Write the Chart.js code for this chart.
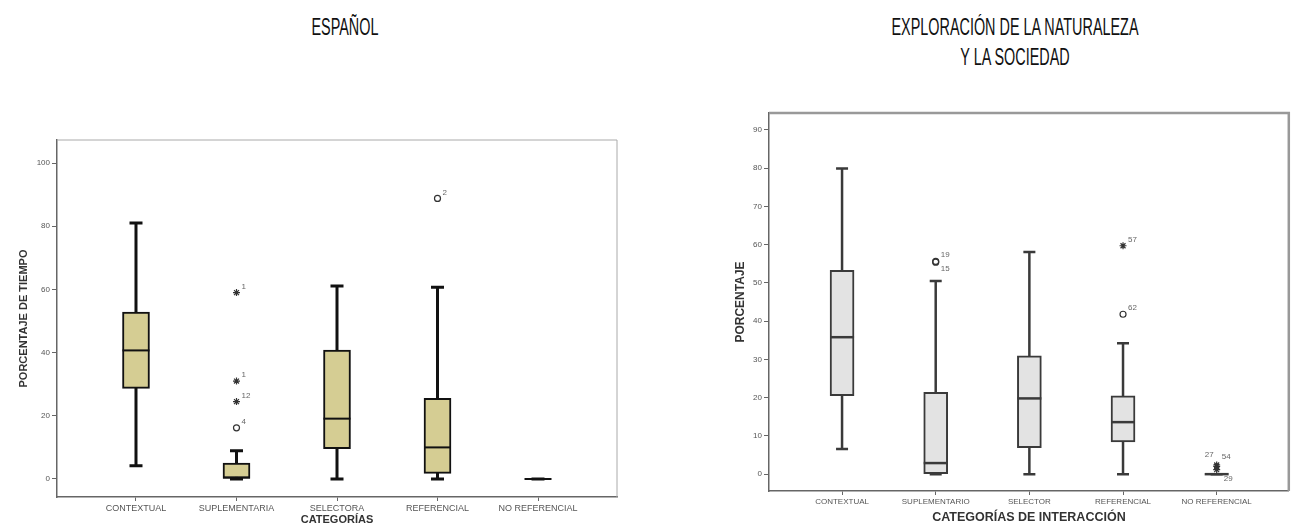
<!DOCTYPE html>
<html lang="es">
<head>
<meta charset="utf-8">
<script src="https://cdn.jsdelivr.net/npm/chart.js@4.4.0/dist/chart.umd.min.js"></script>
<style>
  body { margin: 0; background: #fff; width: 1294px; height: 529px; position: relative; overflow: hidden; font-family: "Liberation Sans", Arial, sans-serif; }
  .title { position: absolute; font-size: 24px; line-height: 30px; color: #111; text-align: center; transform: scaleX(0.6); transform-origin: center; white-space: nowrap; }
  .plot { position: absolute; }
</style>
</head>
<body>
<div class="title" style="left:145px; top:12px; width:400px;">ESPAÑOL</div>
<div class="title" style="left:715px; top:12px; width:600px;">EXPLORACIÓN DE LA NATURALEZA<br>Y LA SOCIEDAD</div>
<div class="plot" style="left:0; top:130px;"><canvas id="leftChart" width="640" height="399"></canvas></div>
<div class="plot" style="left:700px; top:100px;"><canvas id="rightChart" width="594" height="429"></canvas></div>
<script>
"use strict";

// ESPAÑOL
const leftCategories = ["CONTEXTUAL", "SUPLEMENTARIA", "SELECTORA", "REFERENCIAL", "NO REFERENCIAL"];
const leftWhiskerLow = [4.2, 0, 0, 0, 0];
const leftQ1 = [28.7, 0, 9.6, 1.8, 0];
const leftMedian = [40.7, 0.5, 19.1, 10.0, 0];
const leftQ3 = [52.8, 5.0, 40.8, 25.5, 0];
const leftWhiskerHigh = [81.0, 8.9, 61.1, 60.7, 0];
const leftYTicks = [0, 20, 40, 60, 80, 100];
// outliers: category index, value, case number, extreme (*) or not (o)
const leftOutlierCat = [1, 1, 1, 1, 3];
const leftOutlierValue = [59.0, 31.0, 24.5, 16.2, 88.8];
const leftOutlierLabel = ["1", "1", "12", "4", "2"];
const leftOutlierExtreme = [true, true, true, false, false];

// EXPLORACIÓN DE LA NATURALEZA Y LA SOCIEDAD
const rightCategories = ["CONTEXTUAL", "SUPLEMENTARIO", "SELECTOR", "REFERENCIAL", "NO REFERENCIAL"];
const rightWhiskerLow = [6.6, 0, 0, 0, 0];
const rightQ1 = [20.5, 0, 6.9, 8.4, 0];
const rightMedian = [35.8, 2.9, 19.8, 13.6, 0];
const rightQ3 = [53.3, 21.4, 30.9, 20.5, 0];
const rightWhiskerHigh = [79.9, 50.5, 58.1, 34.2, 0];
const rightYTicks = [0, 10, 20, 30, 40, 50, 60, 70, 80, 90];
const rightOutlierCat = [1, 1, 3, 3, 4, 4, 4];
const rightOutlierValue = [55.6, 55.4, 41.8, 59.7, 2.4, 2.0, 1.2];
const rightOutlierLabel = ["19", "15", "62", "57", "27", "54", "29"];
const rightOutlierExtreme = [false, false, false, true, true, true, true];

// where a case number goes, by its rank in a cluster of close outliers
const labelSpots = {
  1: [[5, -6]],
  2: [[5, -7], [5, 7]],
  3: [[-12, -10], [5, -10], [7, 9]],
};

// draws whiskers, caps, medians, case labels and the frame through the chart scales
function boxParts(s) {
  return {
    id: "boxParts",
    beforeDatasetsDraw(chart) {
      const { ctx, scales: { x, y } } = chart;
      ctx.save();
      ctx.strokeStyle = s.color;
      ctx.lineWidth = s.whiskerWidth;
      s.low.forEach((lo, i) => {
        const px = x.getPixelForValue(i);
        const yLo = y.getPixelForValue(lo);
        const yHi = y.getPixelForValue(s.high[i]);
        ctx.beginPath();
        ctx.moveTo(px, yLo);
        ctx.lineTo(px, yHi);
        ctx.moveTo(px - s.cap / 2, yLo);
        ctx.lineTo(px + s.cap / 2, yLo);
        ctx.moveTo(px - s.cap / 2, yHi);
        ctx.lineTo(px + s.cap / 2, yHi);
        ctx.stroke();
      });
      ctx.restore();
    },
    afterDatasetsDraw(chart) {
      const { ctx, scales: { x, y } } = chart;
      ctx.save();
      ctx.strokeStyle = s.color;
      ctx.lineWidth = s.medianWidth;
      s.median.forEach((m, i) => {
        const px = x.getPixelForValue(i);
        const py = y.getPixelForValue(m);
        ctx.beginPath();
        ctx.moveTo(px - s.boxWidth / 2, py);
        ctx.lineTo(px + s.boxWidth / 2, py);
        ctx.stroke();
      });
      // case numbers next to the outliers
      ctx.fillStyle = "#666";
      ctx.font = "8px 'Liberation Sans', Arial, sans-serif";
      ctx.textBaseline = "middle";
      s.outCat.forEach((c, i) => {
        const cluster = s.outCat
          .map((cc, j) => j)
          .filter((j) => s.outCat[j] === c && Math.abs(s.outValue[j] - s.outValue[i]) < 2.5);
        const spot = labelSpots[Math.min(cluster.length, 3)][Math.min(cluster.indexOf(i), 2)];
        const px = x.getPixelForValue(c);
        const py = y.getPixelForValue(s.outValue[i]);
        ctx.fillText(s.outLabel[i], px + spot[0], py + spot[1]);
      });
      ctx.restore();
    },
    afterDraw(chart) {
      const { ctx, chartArea: a } = chart;
      ctx.save();
      ctx.strokeStyle = s.frameColor;
      ctx.lineWidth = s.frameWidth;
      ctx.beginPath();
      ctx.moveTo(a.left, a.top);
      ctx.lineTo(a.right, a.top);
      ctx.lineTo(a.right, a.bottom);
      ctx.stroke();
      ctx.restore();
    },
  };
}

function makeChart(id, d, look) {
  const xTicks = d.categories.map((c, i) => i);
  return new Chart(document.getElementById(id), {
    type: "bar",
    data: {
      datasets: [
        {
          type: "bar",
          data: d.q1.map((v, i) => ({ x: i, y: [v, d.q3[i]] })),
          backgroundColor: look.fill,
          borderColor: look.line,
          borderWidth: look.boxBorder,
          borderSkipped: false,
          barThickness: look.boxWidth,
        },
        {
          type: "scatter",
          data: d.outCat.map((c, i) => ({ x: c, y: d.outValue[i] })),
          pointStyle: d.outExtreme.map((e) => (e ? "star" : "circle")),
          pointRadius: d.outExtreme.map((e) => (e ? 3.5 : 3)),
          borderColor: "#333",
          backgroundColor: "rgba(255,255,255,0)",
          borderWidth: 1.2,
        },
      ],
    },
    options: {
      responsive: false,
      devicePixelRatio: 1,
      animation: false,
      layout: { padding: look.padding },
      plugins: { legend: { display: false }, tooltip: { enabled: false } },
      scales: {
        x: {
          type: "linear",
          min: look.xMin,
          max: look.xMax,
          offset: false,
          afterBuildTicks: (scale) => { scale.ticks = xTicks.map((v) => ({ value: v })); },
          afterFit: (scale) => { scale.height = look.xHeight; },
          ticks: {
            autoSkip: false,
            maxRotation: 0,
            padding: 2,
            color: "#555",
            font: { family: "'Liberation Sans', Arial, sans-serif", size: look.tickSize },
            callback: (v) => d.categories[v],
          },
          grid: { drawOnChartArea: false, offset: false, tickLength: 4, color: "#666" },
          border: { color: "#666", width: 1.5 },
          title: {
            display: true,
            text: d.xTitle,
            color: "#333",
            font: { family: "'Liberation Sans', Arial, sans-serif", size: look.xTitleSize, weight: "bold" },
            padding: { top: 0, bottom: look.xTitlePad },
          },
        },
        y: {
          min: look.yMin,
          max: look.yMax,
          afterBuildTicks: (scale) => { scale.ticks = d.yTicks.map((v) => ({ value: v })); },
          afterFit: (scale) => { scale.width = look.yWidth; },
          ticks: {
            padding: 2,
            color: "#555",
            font: { family: "'Liberation Sans', Arial, sans-serif", size: 8 },
          },
          grid: { drawOnChartArea: false, tickLength: 5, color: "#666" },
          border: { color: "#666", width: 1.5 },
          title: {
            display: true,
            text: d.yTitle,
            color: "#333",
            font: { family: "'Liberation Sans', Arial, sans-serif", size: look.yTitleSize, weight: "bold" },
            padding: { top: look.yTitlePad, bottom: 0 },
          },
        },
      },
    },
    plugins: [
      boxParts({
        low: d.low, high: d.high, median: d.median,
        outCat: d.outCat, outValue: d.outValue, outLabel: d.outLabel,
        color: look.line, whiskerWidth: look.whiskerWidth, medianWidth: look.medianWidth,
        cap: look.cap, boxWidth: look.boxWidth, frameColor: look.frameColor, frameWidth: look.frameWidth,
      }),
    ],
  });
}

makeChart("leftChart", {
  categories: leftCategories, low: leftWhiskerLow, q1: leftQ1, median: leftMedian, q3: leftQ3, high: leftWhiskerHigh,
  yTicks: leftYTicks, outCat: leftOutlierCat, outValue: leftOutlierValue, outLabel: leftOutlierLabel, outExtreme: leftOutlierExtreme,
  xTitle: "CATEGORÍAS", yTitle: "PORCENTAJE DE TIEMPO",
}, {
  fill: "#d5cd93", line: "#111", boxBorder: 2, boxWidth: 27, cap: 13, whiskerWidth: 3, medianWidth: 2,
  frameColor: "#aaa", frameWidth: 1,
  padding: { top: 10, right: 23, left: 0, bottom: 0 },
  xMin: -0.786, xMax: 4.786, yMin: -5.7, yMax: 107.3,
  xHeight: 32, yWidth: 57, tickSize: 9, xTitleSize: 11, xTitlePad: 2, yTitleSize: 11, yTitlePad: 17,
});

makeChart("rightChart", {
  categories: rightCategories, low: rightWhiskerLow, q1: rightQ1, median: rightMedian, q3: rightQ3, high: rightWhiskerHigh,
  yTicks: rightYTicks, outCat: rightOutlierCat, outValue: rightOutlierValue, outLabel: rightOutlierLabel, outExtreme: rightOutlierExtreme,
  xTitle: "CATEGORÍAS DE INTERACCIÓN", yTitle: "PORCENTAJE",
}, {
  fill: "#e3e3e3", line: "#3a3a3a", boxBorder: 2, boxWidth: 24, cap: 12, whiskerWidth: 2.5, medianWidth: 2.5,
  frameColor: "#999", frameWidth: 2.5,
  padding: { top: 13, right: 2, left: 0, bottom: 0 },
  xMin: -0.78, xMax: 4.77, yMin: -4.4, yMax: 94.4,
  xHeight: 38, yWidth: 69, tickSize: 8, xTitleSize: 12.5, xTitlePad: 4, yTitleSize: 12, yTitlePad: 33,
});
</script>
</body>
</html>
